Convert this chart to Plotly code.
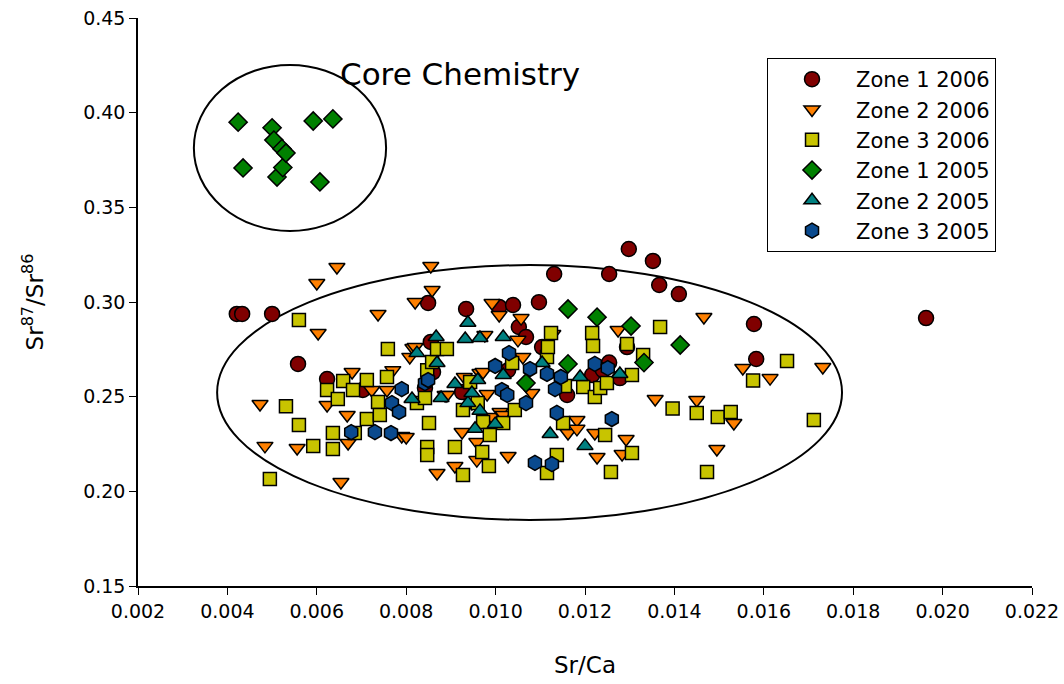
import plotly.graph_objects as go

# ---------------- data ----------------
z1_2006_x = [0.00421, 0.00433, 0.00500, 0.00558, 0.00623, 0.00703, 0.00842, 0.00849, 0.00855, 0.00860,
             0.00925, 0.00934, 0.01008, 0.01028, 0.01039, 0.01052, 0.01068, 0.01097, 0.01104, 0.01131,
             0.01160, 0.01216, 0.01254, 0.01278, 0.01240, 0.01254, 0.01294, 0.01298, 0.01352, 0.01366,
             0.01410, 0.01578, 0.01583, 0.01963]
z1_2006_y = [0.2937, 0.2937, 0.2937, 0.2673, 0.2593, 0.2535, 0.2546, 0.2995, 0.2789, 0.2630,
             0.2524, 0.2963, 0.2974, 0.2640, 0.2984, 0.2868, 0.2815, 0.2999, 0.2762, 0.3148,
             0.2509, 0.2614, 0.2680, 0.2598, 0.2640, 0.3148, 0.2762, 0.3280, 0.3217, 0.3090,
             0.3042, 0.2884, 0.2699, 0.2915]

z2_2006_x = [0.00473, 0.00484, 0.00556, 0.00600, 0.00603, 0.00623, 0.00645, 0.00654, 0.00668, 0.00670,
             0.00679, 0.00723, 0.00737, 0.00757, 0.00770, 0.00790, 0.00800, 0.00808, 0.00815, 0.00820,
             0.00820, 0.00855, 0.00858, 0.00869, 0.00887, 0.00891, 0.00909, 0.00925, 0.00930, 0.00947,
             0.00958, 0.00958, 0.00965, 0.00972, 0.00976, 0.00981, 0.00992, 0.00992, 0.01008, 0.01010,
             0.01017, 0.01028, 0.01050, 0.01057, 0.01061, 0.01081, 0.01128, 0.01162, 0.01182, 0.01182,
             0.01222, 0.01227, 0.01274, 0.01283, 0.01292, 0.01357, 0.01450, 0.01466, 0.01495, 0.01533,
             0.01553, 0.01614, 0.01732]
z2_2006_y = [0.2461, 0.2240, 0.2229, 0.3100, 0.2836, 0.2456, 0.3185, 0.2049, 0.2403, 0.2255,
             0.2630, 0.2535, 0.2937, 0.2535, 0.2640, 0.2292, 0.2287, 0.2710, 0.2757, 0.3000,
             0.2762, 0.3190, 0.3063, 0.2097, 0.2509, 0.2509, 0.2134, 0.2313, 0.2604, 0.2466,
             0.2260, 0.2165, 0.2625, 0.2630, 0.2826, 0.2514, 0.2995, 0.2393, 0.2931, 0.2419,
             0.2403, 0.2187, 0.2800, 0.2915, 0.2710, 0.2519, 0.2831, 0.2308, 0.2377, 0.2330,
             0.2308, 0.2181, 0.2852, 0.2197, 0.2276, 0.2488, 0.2482, 0.2921, 0.2224, 0.2361,
             0.2651, 0.2598, 0.2657]

z3_2006_x = [0.00495, 0.00531, 0.00560, 0.00560, 0.00592, 0.00623, 0.00636, 0.00636, 0.00647, 0.00659,
             0.00681, 0.00685, 0.00712, 0.00712, 0.00737, 0.00741, 0.00757, 0.00759, 0.00824, 0.00842,
             0.00847, 0.00847, 0.00847, 0.00851, 0.00858, 0.00869, 0.00891, 0.00909, 0.00927, 0.00927,
             0.00943, 0.00960, 0.00970, 0.00972, 0.00985, 0.00987, 0.01017, 0.01037, 0.01043, 0.01115,
             0.01115, 0.01117, 0.01124, 0.01137, 0.01151, 0.01155, 0.01196, 0.01216, 0.01218, 0.01222,
             0.01234, 0.01245, 0.01249, 0.01258, 0.01294, 0.01305, 0.01305, 0.01330, 0.01368, 0.01396,
             0.01450, 0.01473, 0.01497, 0.01526, 0.01576, 0.01652, 0.01712]
z3_2006_y = [0.2065, 0.2450, 0.2905, 0.2350, 0.2240, 0.2535, 0.2308, 0.2224, 0.2488, 0.2583,
             0.2535, 0.2308, 0.2588, 0.2382, 0.2472, 0.2403, 0.2604, 0.2752, 0.2466, 0.2493,
             0.2640, 0.2234, 0.2192, 0.2361, 0.2683, 0.2752, 0.2752, 0.2234, 0.2086, 0.2430,
             0.2578, 0.2466, 0.2208, 0.2366, 0.2134, 0.2297, 0.2361, 0.2678, 0.2430, 0.2097,
             0.2710, 0.2762, 0.2836, 0.2192, 0.2361, 0.2556, 0.2551, 0.2836, 0.2768, 0.2498,
             0.2546, 0.2297, 0.2572, 0.2102, 0.2778, 0.2614, 0.2202, 0.2720, 0.2868, 0.2437,
             0.2414, 0.2102, 0.2393, 0.2419, 0.2585, 0.2688, 0.2377]

z1_2005_x = [0.00424, 0.00435, 0.00500, 0.00504, 0.00511, 0.00522, 0.00524, 0.00531, 0.00592, 0.00607,
             0.00636, 0.01068, 0.01162, 0.01162, 0.01227, 0.01303, 0.01332, 0.01413]
z1_2005_y = [0.3950, 0.3708, 0.3920, 0.3855, 0.3660, 0.3810, 0.3710, 0.3787, 0.3956, 0.3634,
             0.3967, 0.2572, 0.2963, 0.2673, 0.2920, 0.2873, 0.2680, 0.2773]

z2_2005_x = [0.00813, 0.00824, 0.00867, 0.00869, 0.00878, 0.00909, 0.00932, 0.00938, 0.00938, 0.00947,
             0.00954, 0.00960, 0.00965, 0.00965, 0.00999, 0.01017, 0.01017, 0.01104, 0.01122, 0.01189,
             0.01200, 0.01278]
z2_2005_y = [0.2488, 0.2730, 0.2815, 0.2678, 0.2493, 0.2567, 0.2805, 0.2890, 0.2466, 0.2519,
             0.2330, 0.2588, 0.2810, 0.2425, 0.2355, 0.2815, 0.2614, 0.2678, 0.2303, 0.2604,
             0.2240, 0.2620]

z3_2005_x = [0.00677, 0.00730, 0.00766, 0.00768, 0.00784, 0.00790, 0.00842, 0.00849, 0.00999, 0.01014,
             0.01026, 0.01030, 0.01068, 0.01077, 0.01088, 0.01115, 0.01126, 0.01133, 0.01137, 0.01146,
             0.01222, 0.01251, 0.01260]
z3_2005_y = [0.2313, 0.2313, 0.2308, 0.2466, 0.2419, 0.2540, 0.2572, 0.2588, 0.2662, 0.2535,
             0.2509, 0.2730, 0.2466, 0.2646, 0.2150, 0.2620, 0.2144, 0.2540, 0.2414, 0.2604,
             0.2673, 0.2651, 0.2382]

series_names = ["Zone 1 2006", "Zone 2 2006", "Zone 3 2006", "Zone 1 2005", "Zone 2 2005", "Zone 3 2005"]
x_ticks = [0.002, 0.004, 0.006, 0.008, 0.010, 0.012, 0.014, 0.016, 0.018, 0.020, 0.022]
y_ticks = [0.15, 0.20, 0.25, 0.30, 0.35, 0.40, 0.45]

# ellipses (data coordinates)
core_ellipse = dict(x0=0.00325, x1=0.00755, y0=0.3375, y1=0.4252)
main_ellipse = dict(x0=0.00377, x1=0.01775, y0=0.1849, y1=0.3195)

# ---------------- figure ----------------
styles = [
    ("circle", "#800000", 15),
    ("triangle-down", "#FF8000", 14),
    ("square", "#C8C400", 13),
    ("diamond", "#008000", 14),
    ("triangle-up", "#008080", 14),
    ("hexagon", "#0A4A8E", 15),
]
data = [(z1_2006_x, z1_2006_y), (z2_2006_x, z2_2006_y), (z3_2006_x, z3_2006_y),
        (z1_2005_x, z1_2005_y), (z2_2005_x, z2_2005_y), (z3_2005_x, z3_2005_y)]

fig = go.Figure()
for name, (xs, ys), (sym, col, sz) in zip(series_names, data, styles):
    fig.add_trace(go.Scatter(
        x=xs, y=ys, mode="markers", name=name,
        marker=dict(symbol=sym, color=col, size=sz, line=dict(color="black", width=1.5)),
    ))

for e in (core_ellipse, main_ellipse):
    fig.add_shape(type="circle", xref="x", yref="y", line=dict(color="black", width=2),
                  layer="below", **e)

font_family = "DejaVu Sans, Verdana, sans-serif"

fig.add_annotation(x=0.0092, y=0.4205, xref="x", yref="y", text="Core Chemistry",
                   showarrow=False, font=dict(size=31, color="black", family=font_family))

fig.update_layout(
    width=1064, height=684,
    margin=dict(l=138, r=32, t=18, b=98, autoexpand=False),
    paper_bgcolor="white", plot_bgcolor="white",
    font=dict(family=font_family, color="black", size=19),
    showlegend=True,
    legend=dict(x=0.7036, y=0.9296, xanchor="left", yanchor="top",
                bordercolor="black", borderwidth=1, bgcolor="white",
                font=dict(size=21), itemwidth=78, tracegroupgap=0),
    xaxis=dict(range=[0.002, 0.022], tickvals=x_ticks, tickformat=".3f",
               showline=True, linecolor="black", linewidth=1.5, ticks="outside",
               ticklen=7, tickcolor="black", showgrid=False, zeroline=False,
               tickfont=dict(size=19), ticklabeloverflow="allow", automargin=False,
               title=dict(text="Sr/Ca", font=dict(size=23), standoff=36)),
    yaxis=dict(range=[0.15, 0.45], tickvals=y_ticks, tickformat=".2f",
               showline=True, linecolor="black", linewidth=1.5, ticks="outside",
               ticklen=7, tickcolor="black", showgrid=False, zeroline=False,
               tickfont=dict(size=19), ticklabeloverflow="allow", automargin=False,
               title=dict(text="Sr<sup>87</sup>/Sr<sup>86</sup>", font=dict(size=23), standoff=33)),
)

# remove the browser's default page margin so the figure fills the window exactly
fig.write_html("out.html",
               config={"displayModeBar": False},
               post_script="document.body.style.margin='0';document.body.style.overflow='hidden';")
